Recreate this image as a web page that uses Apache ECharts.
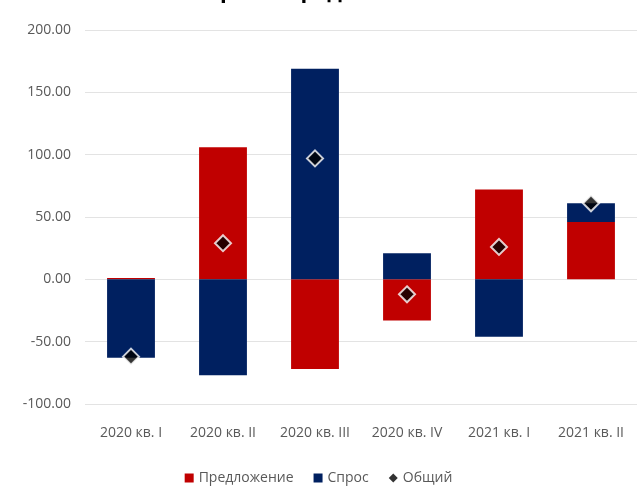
<!DOCTYPE html>
<html>
<head>
<meta charset="utf-8">
<script src="https://cdn.jsdelivr.net/npm/echarts@6/dist/echarts.min.js"></script>
<style>
    html, body { margin: 0; padding: 0; background: #fff; }
    #chart { width: 637px; height: 489px; }
</style>
</head>
<body>
<div id="chart"></div>
<script>
    // кварталы и значения
    const categories = ['2020 кв. I', '2020 кв. II', '2020 кв. III', '2020 кв. IV', '2021 кв. I', '2021 кв. II'];
    const supply = [1, 106, -72, -33, 72, 46];      // Предложение
    const demand = [-63, -77, 169, 21, -46, 15];    // Спрос
    const total = [-62, 29, 97, -12, 26, 61];       // Общий
    const yTicks = [-100, 200, 50];                 // min, max, шаг

    const font = '"Open Sans", "Noto Sans", sans-serif';

    let option = {
        animation: false,
        title: {
            text: 'Спрос и предложение',
            left: 'center',
            top: -24,
            textStyle: {
                fontSize: 22,
                fontWeight: 'bold',
                color: '#000',
                fontFamily: font
            }
        },
        grid: {
            left: 85,
            right: 0,
            top: 30,
            bottom: 85
        },
        legend: {
            bottom: -1,
            left: 'center',
            itemWidth: 9,
            itemHeight: 9,
            itemGap: 20,
            textStyle: {
                color: '#595959',
                fontSize: 14,
                fontFamily: font
            },
            data: [
                {name: 'Предложение', icon: 'rect'},
                {name: 'Спрос', icon: 'rect'},
                {name: 'Общий', icon: 'diamond', itemStyle: {borderWidth: 0}}
            ]
        },
        xAxis: {
            type: 'category',
            data: categories,
            axisLine: {show: false},
            axisTick: {show: false},
            axisLabel: {
                color: '#595959',
                fontSize: 14,
                fontFamily: font,
                margin: 22,
                interval: 0
            }
        },
        yAxis: {
            type: 'value',
            min: yTicks[0],
            max: yTicks[1],
            interval: yTicks[2],
            axisLabel: {
                color: '#595959',
                fontSize: 14,
                fontFamily: font,
                margin: 14,
                formatter: v => v.toFixed(2)
            },
            splitLine: {
                lineStyle: {color: '#e3e3e3', width: 1}
            }
        },
        series: [
            {
                name: 'Предложение',
                type: 'bar',
                stack: 'all',
                barWidth: '52%',
                itemStyle: {color: '#C00000'},
                data: supply
            },
            {
                name: 'Спрос',
                type: 'bar',
                stack: 'all',
                barWidth: '52%',
                itemStyle: {color: '#002060'},
                data: demand
            },
            {
                name: 'Общий',
                type: 'scatter',
                symbol: 'diamond',
                symbolSize: 16,
                itemStyle: {
                    color: '#000',
                    borderColor: '#fff',
                    borderWidth: 2
                },
                z: 5,
                data: total
            }
        ]
    };

    const chart = echarts.init(document.getElementById('chart'));
    chart.setOption(option);
</script>
</body>
</html>
